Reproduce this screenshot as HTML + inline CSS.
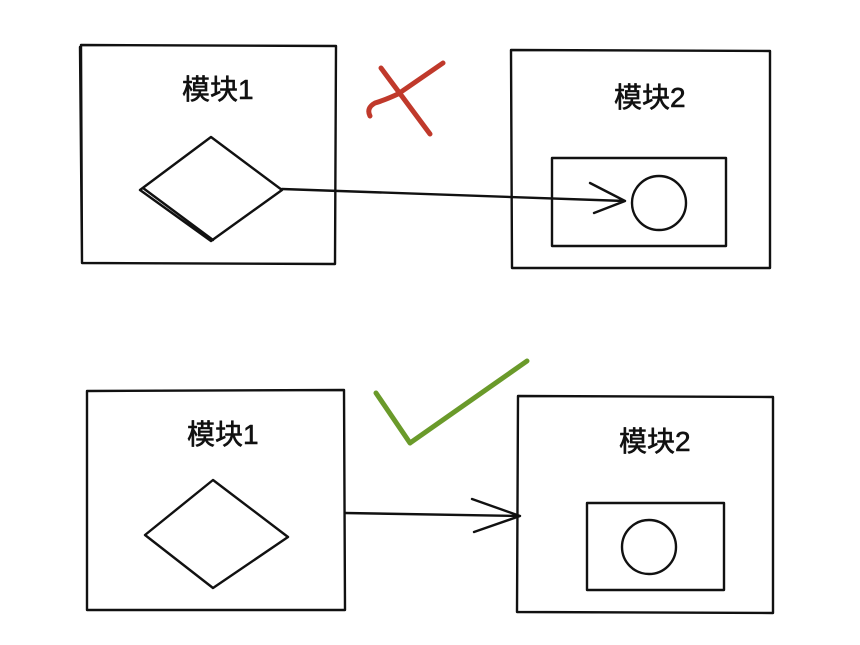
<!DOCTYPE html>
<html><head><meta charset="utf-8"><style>
body{margin:0;background:#fff;width:860px;height:640px;overflow:hidden}
svg text{font-family:"Liberation Sans","Noto Sans CJK SC",sans-serif;font-size:28px;fill:#111;stroke:#111;stroke-width:0.6}
</style></head><body>
<svg width="860" height="640" viewBox="0 0 860 640" fill="none" stroke="#111" stroke-width="2.4" stroke-linecap="round" stroke-linejoin="round">
<g>
 <path d="M81 45 L336 46 L335 264 L82 263 Z M80 47 L82 262"/>
 <text x="182" y="99">模块1</text>
 <path d="M140 190 L211 137 L282 190 L211 241 Z M143 188 L213 240"/>
 <path d="M282 189 L625 201 M590 183 L625 201 L594 213"/>
 <path d="M511 50 L770 51 L770 268 L512 268 Z"/>
 <text x="614" y="107">模块2</text>
 <rect x="552" y="158" width="174" height="88"/>
 <circle cx="659" cy="203" r="27"/>
 <path stroke="#c0392b" stroke-width="5" d="M381 68 L430 134 M443 63 L398 94 Q385 100 375 103 Q366 108 370 116"/>
</g>
<g>
 <path d="M87 391 L344 390 L345 610 L87 610 Z"/>
 <text x="187" y="444">模块1</text>
 <path d="M145 535 L213 480 L288 537 L213 588 Z"/>
 <path d="M345 513 L520 516 M472 499 L520 516 L474 532"/>
 <path d="M518 396 L773 397 L773 613 L517 612 Z"/>
 <text x="619" y="451">模块2</text>
 <rect x="587" y="503" width="137" height="87"/>
 <circle cx="649" cy="547" r="27"/>
 <path stroke="#6a9a2a" stroke-width="5" d="M376 393 L410 443 L527 361"/>
</g>
</svg>
</body></html>
